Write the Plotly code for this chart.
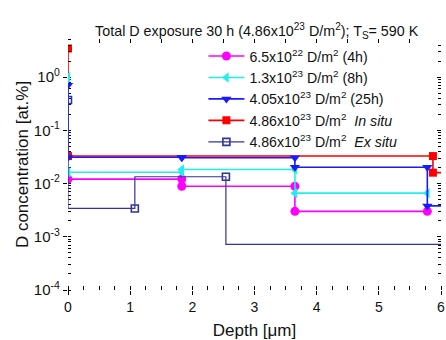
import plotly.graph_objects as go

# Layer boundaries [um], layer concentrations [at.%] and near-surface value for each exposure
depth_4h = [0, 1.83, 3.65, 5.78]
conc_4h = [0.0121, 0.0089, 0.0030]
surf_4h = None

depth_8h = [0, 1.83, 3.65, 5.78]
conc_8h = [0.0163, 0.0183, 0.0066]
surf_8h = 1.0

depth_25h = [0, 1.83, 3.65, 5.78, 6.5]
conc_25h = [0.0312, 0.0305, 0.0202, 0.0038]
surf_25h = 0.70

depth_insitu = [0, 5.87, 6.5]
conc_insitu = [0.0328, 0.0160]
surf_insitu = 3.44

# Ex situ profile: depth / concentration points joined by vertical-then-horizontal steps
depth_exsitu = [0, 1.075, 2.54, 6.5]
conc_exsitu = [0.37, 0.0034, 0.0134, 0.00072]

names = [
    "6.5x10<sup>22</sup> D/m<sup>2</sup> (4h)",
    "1.3x10<sup>23</sup> D/m<sup>2</sup> (8h)",
    "4.05x10<sup>23</sup> D/m<sup>2</sup> (25h)",
    "4.86x10<sup>23</sup> D/m<sup>2</sup>  <i>In situ</i>",
    "4.86x10<sup>23</sup> D/m<sup>2</sup>  <i>Ex situ</i>",
]

x_ticks = [0, 1, 2, 3, 4, 5, 6]
y_ticks = [1e-4, 1e-3, 1e-2, 1e-1, 1]
y_ticktext = ["10<sup>-4</sup>", "10<sup>-3</sup>", "10<sup>-2</sup>", "10<sup>-1</sup>", "10<sup>0</sup>"]


def layer_steps(bounds, conc, surf):
    """Optional surface point followed by a flat segment per layer, with points at both ends."""
    xs, ys = ([bounds[0]], [surf]) if surf is not None else ([], [])
    for i, c in enumerate(conc):
        xs += [bounds[i], bounds[i + 1]]
        ys += [c, c]
    return xs, ys


fig = go.Figure()

# (profile, colour, marker, marker size, drawing layer)
series = [
    (depth_4h, conc_4h, surf_4h, "#ff00ff", "circle", 9, 1),
    (depth_8h, conc_8h, surf_8h, "#22eeee", "triangle-left", 9, 1),
    (depth_25h, conc_25h, surf_25h, "#1a1aff", "triangle-down", 9, 1),
    (depth_insitu, conc_insitu, surf_insitu, "#ff0000", "square", 8, 0),
]
for name, (d, c, s, col, sym, msz, z) in zip(names, series):
    xs, ys = layer_steps(d, c, s)
    fig.add_trace(go.Scatter(
        x=xs, y=ys, mode="lines+markers", name=name, zorder=z,
        line=dict(color=col, width=1.6),
        marker=dict(symbol=sym, size=msz, color=col),
    ))

fig.add_trace(go.Scatter(
    x=depth_exsitu, y=conc_exsitu, mode="lines+markers", name=names[4], zorder=2,
    line=dict(color="#333399", width=1.2, shape="vh"),
    marker=dict(symbol="square-open", size=7, color="#333399", line=dict(width=1.6)),
))

axis_font = dict(family="Liberation Sans, Arial, sans-serif", size=14, color="#111111")

fig.update_layout(
    width=446, height=340,
    margin=dict(l=68, r=1, t=39, b=43),
    paper_bgcolor="white", plot_bgcolor="white",
    font=axis_font,
    title=dict(
        text="Total D exposure 30 h (4.86x10<sup>23</sup> D/m<sup>2</sup>); T<sub>S</sub>= 590 K",
        x=0.5755, xanchor="center", y=0.91, yanchor="middle",
        font=dict(size=14.3, color="#111111"),
    ),
    showlegend=True,
    legend=dict(
        x=0.363, y=0.995, xanchor="left", yanchor="top",
        bgcolor="rgba(0,0,0,0)", borderwidth=0,
        font=dict(size=14.2, color="#111111"),
        tracegroupgap=0, itemwidth=36,
    ),
    xaxis=dict(
        range=[0, 6], tickvals=x_ticks, ticktext=[str(v) for v in x_ticks],
        ticklabeloverflow="allow",
        showgrid=False, zeroline=False,
        showline=True, linecolor="black", linewidth=1.2, mirror=True,
        ticks="outside", ticklen=4, tickcolor="black",
        minor=dict(ticks="inside", ticklen=4, dtick=0.25, tickcolor="black", showgrid=False),
        title=dict(text="Depth [μm]", standoff=12),
        tickfont=dict(size=14),
    ),
    yaxis=dict(
        type="log", range=[-4, 0.715], tickvals=y_ticks, ticktext=y_ticktext,
        showgrid=False, zeroline=False,
        showline=True, linecolor="black", linewidth=1.2, mirror=True,
        ticks="outside", ticklen=4, tickcolor="black",
        minor=dict(ticks="inside", ticklen=3, dtick="D1", tickcolor="black", showgrid=False),
        title=dict(text="D concentration [at.%]", standoff=0),
        tickfont=dict(size=15),
    ),
    # tick marks on the top and right frame edges
    xaxis2=dict(
        overlaying="x", side="top", matches="x", range=[0, 6],
        showticklabels=False, showgrid=False, zeroline=False,
        ticks="inside", ticklen=4, dtick=0.5, tick0=0, tickcolor="black",
    ),
    yaxis2=dict(
        overlaying="y", side="right", type="log", range=[-4, 0.715],
        showticklabels=False, showgrid=False, zeroline=False, dtick=1,
        ticks="inside", ticklen=4, tickcolor="black",
        minor=dict(ticks="inside", ticklen=3, dtick="D1", tickcolor="black"),
    ),
)

# invisible carrier trace so the frame-tick axes are drawn
fig.add_trace(go.Scatter(x=[1], y=[0.01], xaxis="x2", yaxis="y2", mode="markers",
                         marker=dict(opacity=0), showlegend=False, hoverinfo="skip"))

fig.write_html("out.html")
